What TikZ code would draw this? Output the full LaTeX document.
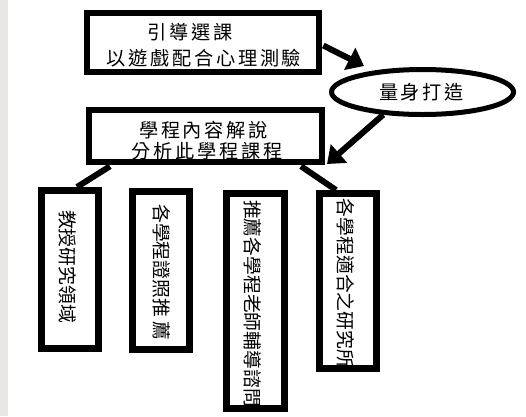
\documentclass[tikz,border=0pt]{standalone}
\usepackage{fontspec}
\newfontfamily\cjk[LetterSpace=14]{Noto Sans CJK TC}
\newfontfamily\cjkv{Noto Sans CJK TC}
\usetikzlibrary{arrows.meta,shapes.geometric,calc}
\definecolor{stripgray}{HTML}{E9E5E5}
\begin{document}
\begin{tikzpicture}[x=1pt,y=-1pt,
  box/.style={draw=black,line width=6.5pt,fill=white,inner sep=0pt,rectangle},
  vbox/.style={draw=black,line width=7pt,fill=white,inner sep=0pt,rectangle,minimum width=57pt},
  oval/.style={draw=black,line width=5pt,fill=white,inner sep=0pt,ellipse,minimum width=182pt,minimum height=45pt},
  htxt/.style={inner sep=0pt,font=\cjk\fontsize{19.2}{21}\selectfont},
  vtxt/.style={inner sep=0pt,rotate=-90,font=\cjkv\fontsize{18.8}{20}\selectfont},
  link/.style={line width=6pt},
  arr/.style={line width=6pt,-{Triangle[length=16pt,width=24pt]}}]
\useasboundingbox (0,0) rectangle (526,416);
\fill[stripgray] (0,0) rectangle (8,416);
% main boxes
\node[box,minimum width=232pt,minimum height=59pt] (top) at (203,42.5) {};
\node[box,minimum width=233pt,minimum height=52pt] (sec) at (205.5,136) {};
\node[oval] (ell) at (422.5,92) {};
% bottom boxes
\node[vbox,minimum height=158pt] (b1) at (70,269.5) {};
\node[vbox,minimum height=158pt] (b2) at (161,270.5) {};
\node[vbox,minimum height=215pt,minimum width=58pt] (b3) at (255.5,301) {};
\node[vbox,minimum height=175pt] (b4) at (348,281) {};
% texts
\node[htxt] (t1) at (190,32) {引導選課};
\node[htxt] (t2) at (204,58) {以遊戲配合心理測驗};
\node[htxt] (t3) at (203.5,130) {學程內容解說};
\node[htxt] (t4) at (207,151) {分析此學程課程};
\node[htxt] (t5) at (421.5,92) {量身打造};
\node[vtxt] (v1) at (68,266.5) {教授研究領域};
\node[vtxt] (v2) at (162,272.5) {各學程證照推\hspace{5pt}薦};
\node[vtxt] (v3) at (253,303.5) {推薦各學程老師輔導諮問};
\node[vtxt] (v4) at (346,283.5) {各學程適合之研究所};
% connectors
\draw[link] ($(top.south)+(-6,0)$) -- ($(top.south)+(-6,0)$ |- sec.north);
\draw[link] ($(sec.south)+(-95.5,1)$) -- ($(b1.north)+(7,0)$);
\draw[link] ($(sec.south)+(-42,0)$) -- ($(sec.south)+(-42,0)$ |- b2.north);
\draw[link] ($(sec.south)+(46.5,0)$) -- ($(sec.south)+(46.5,0)$ |- b3.north);
\draw[link] ($(sec.south)+(95.5,1)$) -- ($(b4.north)+(-12,0)$);
% arrows
\coordinate (a1end) at (364,66);
\coordinate (a2end) at (327,164);
\draw[arr] ($(top.east)+(1,3)$) -- (a1end);
\draw[arr] (ell.210) -- (a2end);
\end{tikzpicture}
\end{document}
